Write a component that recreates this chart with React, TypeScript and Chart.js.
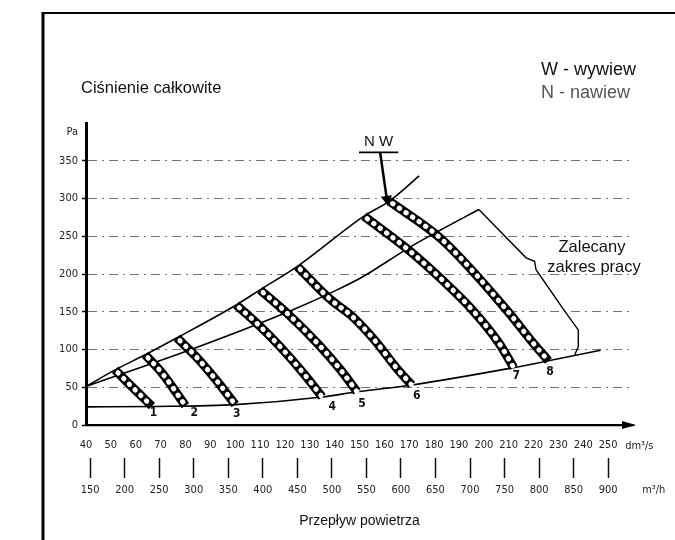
import React, { useEffect, useRef } from 'react';
import { Chart, registerables } from 'chart.js';

Chart.register(...registerables);

// ---- tick labels ----
const flowDm = [40, 50, 60, 70, 80, 90, 100, 110, 120, 130, 140, 150, 160, 170, 180, 190, 200, 210, 220, 230, 240, 250];
const flowM3h = [150, 200, 250, 300, 350, 400, 450, 500, 550, 600, 650, 700, 750, 800, 850, 900];
const pressureTicks = [0, 50, 100, 150, 200, 250, 300, 350];
const PA_TICK = 388;

// ---- curves (x: dm3/s, y: Pa) ----
const upperEnvelope = [[40, 51], [51.7, 73], [63.8, 93], [76.6, 115.5], [100.4, 159], [110, 179], [125, 210], [151.8, 276.6], [162, 296.5], [174, 330]];
const middleCurve = [[40, 51], [85.5, 104], [123.5, 153], [139.7, 177], [150.6, 195], [170, 235], [183, 259], [198, 285.5]];
const bottomCurve = [[40, 24], [67, 24.5], [100, 27], [135, 37], [149, 44], [171, 53], [212, 76], [226, 85], [247, 99]];
const recommendedBracket = [[198, 285.5], [217, 221.4], [220.4, 216.9], [221, 205.8], [232.6, 150.5], [238, 126], [238, 104], [236.6, 93]];

const fan1 = [[51.7, 73], [58.4, 50.9], [66.5, 25]];
const fan2 = [[63.8, 93], [70.6, 68.7], [80, 25.5]];
const fan3 = [[76.6, 115.5], [84.2, 90.7], [92.3, 59.8], [100, 27]];
const fan4 = [[100.4, 159], [108.6, 135], [118, 104], [127.4, 68.7], [135, 37]];
const fan5 = [[110, 179], [120.8, 148.3], [133, 108.5], [142.4, 73], [149, 44]];
const fan6 = [[125, 210], [138.4, 166], [147, 144], [155.9, 113], [165.5, 73], [171, 53]];
const fan7 = [[151.8, 276.6], [169.5, 232.4], [183.1, 192.6], [195.3, 152.7], [206.1, 108.5], [212, 76]];
const fan8 = [[162, 296.5], [183, 246], [209, 153], [219.7, 109], [226, 85]];
const fanCurves = [fan1, fan2, fan3, fan4, fan5, fan6, fan7, fan8];
const fanNumbers = ['1', '2', '3', '4', '5', '6', '7', '8'];
const fanNumberAt = [[67.2, 16], [83.5, 16], [100.6, 14.6], [139, 24], [151, 28], [173, 38.5], [213, 65], [226.6, 70]];

const nwBar = [[149.8, 361], [165.6, 361]];
const nwArrow = [[158.3, 361], [161, 299]];

const toXY = (arr: number[][]) => arr.map(([x, y]) => ({ x, y }));

const SANS = "'Liberation Sans', Arial, sans-serif";
const COND = "'DejaVu Sans Condensed', 'DejaVu Sans', sans-serif";

const annotPlugin = {
  id: 'annot',
  beforeDraw(chart: any) {
    const { ctx } = chart;
    ctx.save();
    ctx.fillStyle = '#fff';
    ctx.fillRect(0, 0, chart.width, chart.height);
    ctx.strokeStyle = '#000';
    ctx.lineWidth = 3;
    ctx.beginPath();
    ctx.moveTo(43, 12);
    ctx.lineTo(43, 540);
    ctx.stroke();
    ctx.lineWidth = 2;
    ctx.beginPath();
    ctx.moveTo(42, 13);
    ctx.lineTo(675, 13);
    ctx.stroke();
    ctx.restore();
  },
  afterDraw(chart: any) {
    const { ctx, chartArea } = chart;
    const x = chart.scales.x;
    const y = chart.scales.y;
    ctx.save();
    // arrow head of the flow axis
    ctx.fillStyle = '#000';
    ctx.beginPath();
    ctx.moveTo(chartArea.right + 3, chartArea.bottom);
    ctx.lineTo(chartArea.right - 11, chartArea.bottom - 4);
    ctx.lineTo(chartArea.right - 11, chartArea.bottom + 4);
    ctx.closePath();
    ctx.fill();

    // fan numbers
    ctx.fillStyle = '#111';
    ctx.font = `bold 12px ${COND}`;
    ctx.textAlign = 'center';
    ctx.textBaseline = 'middle';
    fanNumbers.forEach((t, i) => {
      ctx.fillText(t, x.getPixelForValue(fanNumberAt[i][0]), y.getPixelForValue(fanNumberAt[i][1]));
    });

    // N W marker text
    ctx.font = `15px ${SANS}`;
    const nx = (x.getPixelForValue(nwBar[0][0]) + x.getPixelForValue(nwBar[1][0])) / 2;
    const ny = y.getPixelForValue(nwBar[0][1]);
    ctx.fillText('N W', nx, ny - 11);

    // units
    ctx.font = `11px ${COND}`;
    ctx.textAlign = 'left';
    ctx.fillStyle = '#222';
    ctx.fillText('dm³/s', x.getPixelForValue(250) + 17, chartArea.bottom + 21);
    const x2 = chart.scales.x2;
    ctx.fillText('m³/h', x2.getPixelForValue(900) + 34, x2.top + 32);

    // titles
    ctx.fillStyle = '#111';
    ctx.font = `16.5px ${SANS}`;
    ctx.textAlign = 'left';
    ctx.fillText('Ciśnienie całkowite', 81, 88);
    ctx.font = `18px ${SANS}`;
    ctx.fillText('W - wywiew', 541, 70);
    ctx.fillStyle = '#555';
    ctx.fillText('N - nawiew', 541, 93);
    ctx.fillStyle = '#111';
    ctx.font = `16.5px ${SANS}`;
    ctx.textAlign = 'center';
    ctx.fillText('Zalecany', 592, 247);
    ctx.fillText('zakres pracy', 594, 267);
    ctx.restore();
  },
};

export default function App() {
  const ref = useRef<HTMLCanvasElement>(null);

  useEffect(() => {
    if (!ref.current) return;
    const thin = (data: number[][], extra: any = {}) => ({
      data: toXY(data),
      borderColor: '#000',
      borderWidth: 1.6,
      pointRadius: 0,
      cubicInterpolationMode: 'monotone',
      order: 3,
      ...extra,
    });
    const datasets: any[] = [
      thin(upperEnvelope),
      thin(middleCurve),
      thin(bottomCurve),
      thin(recommendedBracket, { tension: 0, cubicInterpolationMode: 'default', borderWidth: 1.4 }),
      ...fanCurves.map((f) => ({
        data: toXY(f),
        borderColor: '#000',
        borderWidth: 9,
        borderCapStyle: 'butt',
        pointRadius: 0,
        cubicInterpolationMode: 'monotone',
        order: 2,
      })),
      ...fanCurves.map((f) => ({
        data: toXY(f),
        borderColor: '#fff',
        borderWidth: 5,
        borderDash: [0.5, 7.5],
        borderDashOffset: 4,
        borderCapStyle: 'round',
        pointRadius: 0,
        cubicInterpolationMode: 'monotone',
        order: 1,
      })),
      { data: toXY(nwBar), borderColor: '#000', borderWidth: 1.8, pointRadius: 0, tension: 0, order: 3 },
      {
        data: toXY(nwArrow),
        borderColor: '#000',
        borderWidth: 2.5,
        tension: 0,
        pointRadius: [0, 4],
        pointStyle: 'triangle',
        pointRotation: 172,
        pointBackgroundColor: '#000',
        pointBorderColor: '#000',
        order: 3,
      },
    ];

    const chart = new Chart(ref.current, {
      type: 'line',
      data: { datasets },
      plugins: [annotPlugin],
      options: {
        animation: false,
        responsive: false,
        maintainAspectRatio: false,
        layout: { padding: { top: 123, right: 42, left: 0, bottom: 0 } },
        plugins: { legend: { display: false }, tooltip: { enabled: false } },
        scales: {
          x: {
            type: 'linear',
            min: 40,
            max: 260,
            weight: 0,
            afterBuildTicks: (s: any) => { s.ticks = flowDm.map((v) => ({ value: v })); },
            afterFit: (s: any) => { s.height = 33; },
            grid: { display: false, drawTicks: false },
            border: { display: true, color: '#000', width: 2.2 },
            ticks: {
              autoSkip: false,
              maxRotation: 0,
              padding: 14,
              color: '#222',
              font: { family: COND, size: 11 },
              callback: (v: any) => String(v),
            },
          },
          x2: {
            type: 'linear',
            position: 'bottom',
            min: 144,
            max: 936,
            weight: 1,
            afterBuildTicks: (s: any) => { s.ticks = flowM3h.map((v) => ({ value: v })); },
            afterFit: (s: any) => { s.height = 82; },
            grid: { display: true, drawOnChartArea: false, drawTicks: true, tickLength: 20, tickWidth: 1.5, tickColor: '#111' },
            border: { display: false },
            ticks: {
              autoSkip: false,
              maxRotation: 0,
              padding: 6,
              color: '#222',
              font: { family: COND, size: 11 },
              callback: (v: any) => String(v),
            },
            title: {
              display: true,
              text: 'Przepływ powietrza',
              color: '#111',
              font: { family: SANS, size: 14 },
              padding: { top: 0, bottom: 10 },
            },
          },
          y: {
            type: 'linear',
            min: 0,
            max: 400,
            afterBuildTicks: (s: any) => { s.ticks = [...pressureTicks, PA_TICK].map((v) => ({ value: v })); },
            afterFit: (s: any) => { s.width = 86; },
            grid: {
              color: (c: any) => (c.tick && (c.tick.value === 0 || c.tick.value === PA_TICK) ? 'rgba(0,0,0,0)' : 'rgba(0,0,0,0.55)'),
              tickColor: (c: any) => (c.tick && c.tick.value === PA_TICK ? 'rgba(0,0,0,0)' : '#000'),
              lineWidth: 1,
              drawTicks: true,
              tickLength: 4,
              tickWidth: 1.5,
            },
            border: { display: true, color: '#000', width: 3, dash: [9, 5, 2, 5] },
            ticks: {
              padding: 4,
              color: '#222',
              font: { family: COND, size: 11 },
              callback: (v: any) => (v === PA_TICK ? 'Pa' : String(v)),
            },
          },
        },
      } as any,
    });
    return () => chart.destroy();
  }, []);

  return (
    <div style={{ position: 'fixed', left: 0, top: 0, width: 675, height: 540, background: '#fff' }}>
      <canvas ref={ref} width={675} height={540} style={{ display: 'block' }} />
    </div>
  );
}
